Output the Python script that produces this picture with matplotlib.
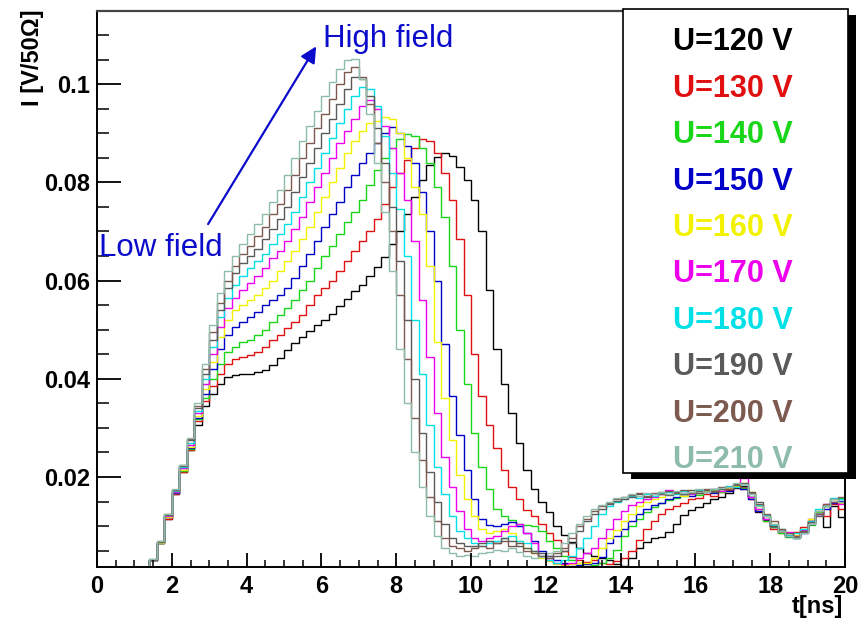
import matplotlib.pyplot as plt
import matplotlib.patches as mpatches
import numpy as np

plt.rcParams['font.family'] = ['Liberation Sans', 'DejaVu Sans']

# histogram bins: 0.2 ns wide, 1.2 .. 20 ns ; values in 1e-3 V/50 Ohm
bin_lo, bin_hi, n_bins = 1.2, 20.0, 94

voltages = [120, 130, 140, 150, 160, 170, 180, 190, 200, 210]
colors = ['#000000', '#e01010', '#19d619', '#0000c8', '#f2f200',
          '#ee00ee', '#00e0e6', '#5a5a5a', '#7d5a50', '#8ebcaa']

i_120 = [0.0, 3.0, 6.5, 11.5, 16.5, 21.0, 25.5, 30.5, 34.5, 37.0,
         39.0, 40.3, 40.8, 41.0, 41.0, 41.4, 41.8, 42.8, 44.2, 45.8,
         47.2, 48.5, 49.8, 51.0, 52.0, 53.2, 54.8, 56.2, 57.8, 59.2,
         61.0, 62.8, 64.8, 67.5, 70.0, 73.5, 77.0, 80.5, 83.5, 85.2,
         86.0, 85.3, 83.2, 80.5, 76.5, 70.0, 58.0, 46.0, 39.0, 33.0,
         27.0, 21.5, 17.5, 15.0, 12.8, 10.0, 8.2, 6.8, 5.5, 4.5,
         4.0, 3.5, 3.0, 2.2, 1.8, 3.5, 5.5, 6.8, 7.5, 7.8,
         8.8, 10.5, 12.2, 13.2, 13.9, 14.8, 15.5, 16.0, 16.8, 17.8,
         18.2, 16.0, 12.8, 11.2, 9.8, 9.0, 8.2, 8.0, 9.0, 11.0,
         12.8, 9.8, 14.0, 11.8]
i_130 = [0.0, 3.0, 6.5, 11.5, 16.5, 21.0, 25.5, 31.5, 35.5, 38.5,
         41.0, 43.0, 44.0, 44.5, 44.8, 45.5, 46.5, 47.8, 49.0, 50.3,
         51.5, 53.0, 55.0, 57.0, 58.5, 60.0, 62.0, 64.0, 66.0, 68.0,
         70.0, 72.5, 75.5, 79.0, 82.0, 84.5, 87.0, 88.8, 88.5, 86.0,
         82.0, 76.5, 68.5, 57.0, 45.0, 36.5, 30.5, 26.0, 21.5, 18.0,
         15.5, 13.2, 12.0, 10.5, 8.5, 7.2, 5.0, 3.8, 3.0, 2.6,
         3.0, 2.5, 2.2, 2.8, 3.5, 5.0, 7.2, 9.5, 11.0, 12.5,
         13.5, 14.0, 14.8, 15.5, 15.8, 16.5, 16.2, 17.0, 17.4, 18.0,
         17.6, 15.5, 13.0, 11.0, 9.5, 8.5, 8.0, 8.8, 9.8, 11.5,
         13.0, 12.0, 14.5, 13.5]
i_140 = [0.0, 3.0, 6.5, 11.8, 16.8, 21.3, 25.8, 31.8, 36.0, 40.0,
         43.0, 45.5, 46.5, 47.5, 48.0, 49.0, 50.0, 51.5, 53.0, 54.5,
         56.0, 58.0, 60.0, 62.5, 65.0, 67.0, 69.5, 72.0, 74.0, 76.5,
         79.5, 82.5, 85.0, 87.0, 88.8, 89.8, 89.5, 87.0, 84.0, 79.0,
         73.0, 63.0, 50.0, 39.0, 29.0, 22.0, 17.5, 13.5, 12.0, 11.2,
         10.5, 10.2, 10.0, 9.0, 7.0, 5.5, 4.0, 3.0, 2.5, 2.2,
         2.0, 2.5, 3.5, 5.2, 8.0, 10.0, 11.5, 12.8, 13.8, 14.7,
         15.3, 15.8, 16.2, 16.8, 16.4, 17.0, 17.4, 17.0, 17.6, 18.2,
         17.8, 16.0, 13.5, 11.0, 9.8, 8.5, 7.8, 7.5, 8.8, 10.2,
         12.8, 14.0, 15.0, 15.8]
i_150 = [0.0, 3.0, 6.6, 11.8, 16.8, 21.5, 26.0, 32.0, 37.0, 42.0,
         46.0, 49.0, 50.5, 51.5, 52.5, 53.5, 55.0, 56.0, 57.0, 58.5,
         60.5, 63.0, 65.5, 68.0, 71.0, 73.5, 76.0, 79.0, 81.5, 84.0,
         86.0, 88.0, 90.0, 91.2, 90.0, 87.5, 84.0, 78.0, 70.0, 60.0,
         47.0, 36.5, 28.5, 21.5, 15.5, 11.5, 10.2, 10.0, 10.5, 10.8,
         10.0, 8.5, 7.0, 5.0, 4.0, 3.0, 2.5, 2.2, 2.0, 2.2,
         2.5, 3.8, 6.5, 8.0, 9.5, 11.0, 12.5, 13.5, 14.2, 14.8,
         15.5, 16.0, 16.5, 16.2, 16.8, 17.2, 16.8, 17.5, 17.2, 18.0,
         17.5, 15.5, 13.0, 11.5, 10.0, 9.0, 8.0, 7.5, 8.5, 10.5,
         12.5, 13.5, 14.8, 15.2]
i_160 = [0.0, 3.0, 6.6, 11.8, 17.0, 21.5, 26.2, 32.5, 38.0, 43.5,
         48.5, 52.0, 54.0, 55.0, 56.0, 57.0, 58.5, 60.0, 62.0, 64.0,
         66.0, 68.5, 71.0, 74.0, 77.0, 80.0, 83.0, 86.0, 88.5, 90.5,
         92.0, 92.5, 93.3, 93.0, 90.0, 85.0, 79.0, 73.5, 63.0, 47.5,
         36.0, 27.5, 20.5, 15.5, 12.0, 9.5, 8.5, 9.0, 9.5, 8.5,
         7.0, 5.5, 4.5, 3.5, 2.8, 2.2, 2.0, 2.2, 2.5, 2.5,
         3.5, 5.5, 7.5, 9.2, 11.0, 12.5, 14.0, 15.0, 15.5, 16.0,
         16.5, 16.8, 16.2, 17.0, 16.8, 17.2, 17.6, 17.2, 17.8, 18.2,
         18.8, 17.0, 14.0, 12.0, 10.5, 9.0, 8.5, 8.2, 9.5, 11.5,
         13.0, 14.0, 15.5, 14.8]
i_170 = [0.0, 3.0, 6.7, 12.0, 17.0, 21.8, 26.5, 33.0, 39.0, 45.0,
         50.5, 54.5, 56.5, 58.0, 59.5, 61.0, 62.5, 64.5, 66.0, 68.0,
         70.5, 73.0, 76.0, 79.0, 82.0, 85.0, 88.0, 90.5, 93.0, 95.5,
         96.7, 95.0, 91.5, 87.0, 82.0, 76.5, 68.0, 56.0, 44.5, 33.0,
         24.0, 18.0, 13.0, 9.5, 7.5, 7.0, 7.5, 8.0, 9.0, 10.0,
         10.5, 8.5, 6.5, 4.0, 3.0, 2.5, 2.2, 2.5, 3.5, 4.5,
         5.5, 7.5, 9.5, 11.5, 13.0, 14.2, 15.0, 15.5, 16.0, 16.5,
         17.3, 16.8, 17.2, 16.6, 17.4, 17.0, 17.5, 17.2, 17.9, 18.5,
         19.8, 16.0, 13.5, 11.5, 10.0, 9.0, 8.8, 8.0, 9.2, 11.0,
         12.5, 14.5, 15.0, 14.5]
i_180 = [0.0, 3.1, 6.8, 12.2, 17.2, 22.0, 27.0, 33.5, 40.0, 46.5,
         52.5, 56.5, 59.0, 61.0, 62.5, 64.0, 65.5, 67.5, 69.5, 71.5,
         74.0, 77.0, 80.0, 83.0, 86.0, 89.0, 92.0, 95.0, 97.5, 99.5,
         99.0, 95.5, 89.5, 82.0, 74.5, 65.0, 52.0, 41.0, 30.5, 22.0,
         16.5, 12.0, 9.0, 7.5, 6.5, 6.0, 6.5, 7.0, 7.5, 8.0,
         7.0, 6.5, 5.0, 4.0, 3.0, 2.5, 3.0, 4.0, 5.5, 7.5,
         10.0, 12.5, 14.0, 15.0, 15.5, 16.2, 15.8, 16.5, 16.2, 16.8,
         17.0, 16.5, 17.2, 16.8, 17.4, 17.0, 17.5, 17.8, 18.2, 18.0,
         18.6, 16.5, 14.2, 12.2, 10.2, 9.5, 8.2, 8.5, 9.5, 11.0,
         13.5, 14.0, 15.8, 15.5]
i_190 = [0.0, 3.1, 6.8, 12.3, 17.3, 22.2, 27.5, 34.0, 41.0, 48.0,
         54.0, 58.5, 61.5, 63.5, 65.0, 66.5, 68.5, 70.5, 72.5, 75.0,
         78.0, 81.0, 84.0, 87.0, 90.0, 93.0, 96.0, 99.0, 101.5, 101.0,
         97.5, 91.0, 84.0, 75.0, 64.0, 52.0, 40.0, 29.0, 21.0, 15.0,
         10.5, 7.5, 6.5, 6.0, 6.0, 6.5, 7.0, 6.5, 7.5, 7.0,
         6.0, 5.5, 5.0, 4.5, 4.0, 4.0, 5.0, 6.5, 9.0, 11.0,
         12.5, 13.5, 14.5, 15.2, 15.6, 16.0, 16.5, 16.0, 16.6, 17.0,
         16.4, 17.0, 16.6, 17.4, 16.8, 17.3, 17.0, 17.6, 18.0, 18.3,
         18.8, 17.0, 15.0, 12.0, 10.0, 9.0, 8.0, 7.8, 8.8, 10.8,
         12.0, 14.0, 15.5, 15.0]
i_200 = [0.0, 3.2, 7.0, 12.4, 17.4, 22.4, 27.8, 34.5, 42.0, 49.5,
         55.5, 60.0, 63.0, 65.5, 67.0, 69.0, 71.0, 73.5, 75.5, 78.5,
         81.5, 85.0, 88.0, 91.0, 94.0, 97.0, 100.0, 102.5, 103.5, 101.5,
         96.0, 88.0, 80.0, 70.0, 57.0, 44.0, 32.0, 23.5, 16.0, 11.0,
         7.5, 6.0, 5.5, 5.0, 5.5, 6.0, 5.5, 6.5, 7.0, 6.0,
         6.5, 5.0, 4.5, 4.0, 3.5, 4.5, 5.5, 7.5, 10.0, 11.5,
         13.0, 14.0, 14.8, 15.5, 16.0, 16.3, 16.8, 16.2, 16.8, 16.5,
         17.2, 16.8, 17.3, 16.8, 17.2, 17.6, 17.2, 17.9, 17.6, 18.5,
         18.0, 16.8, 14.5, 12.5, 11.0, 9.5, 8.5, 8.0, 9.0, 10.5,
         12.5, 14.5, 15.0, 16.0]
i_210 = [0.0, 3.2, 7.0, 12.5, 17.5, 22.5, 28.0, 35.0, 43.0, 51.0,
         57.5, 62.0, 65.0, 67.5, 69.5, 71.5, 73.5, 76.0, 78.5, 81.5,
         85.0, 88.5, 91.5, 94.5, 97.5, 100.5, 103.0, 105.0, 105.2, 101.0,
         94.0, 84.0, 74.0, 62.0, 46.0, 35.0, 25.0, 18.0, 12.0, 8.0,
         5.5, 4.5, 4.0, 4.2, 4.0, 4.5, 4.8, 5.2, 5.0, 5.5,
         4.8, 4.0, 3.5, 3.8, 4.5, 5.0, 6.5, 8.5, 10.5, 12.0,
         13.5, 14.2, 15.0, 15.8, 16.0, 16.5, 16.2, 16.8, 16.5, 17.0,
         16.6, 17.2, 16.8, 17.0, 17.5, 17.0, 17.6, 17.8, 18.0, 18.8,
         18.5, 16.5, 14.0, 12.0, 10.5, 9.0, 8.0, 7.5, 8.5, 10.5,
         13.0, 14.0, 15.5, 15.0]

series = [i_120, i_130, i_140, i_150, i_160, i_170, i_180, i_190, i_200, i_210]
labels = ['U=%d V' % v for v in voltages]

W, H = 866, 627
fig = plt.figure(figsize=(W / 100, H / 100), dpi=100)
ax = fig.add_axes([97 / W, 1 - 567 / H, (845 - 97) / W, (567 - 11) / H])

edges = np.linspace(bin_lo, bin_hi, n_bins + 1)
for vals, c in zip(series, colors):
    ax.stairs(np.array(vals) * 1e-3, edges, color=c, lw=1.0, baseline=None)

ax.set_xlim(0, 20)
ax.set_ylim(0.00167, 0.1149)
ax.set_xticks(np.arange(0, 21, 2))
ax.set_xticks(np.arange(0, 20.01, 0.5), minor=True)
ax.set_yticks([0.02, 0.04, 0.06, 0.08, 0.1])
ax.set_yticklabels(['0.02', '0.04', '0.06', '0.08', '0.1'])
ax.set_yticks(np.arange(0.005, 0.1149, 0.005), minor=True)
ax.tick_params(axis='y', which='major', direction='in', length=17, width=1.3,
               labelsize=17, pad=5)
ax.tick_params(axis='y', which='minor', direction='in', length=8.5, width=1.1)
ax.tick_params(axis='x', which='major', direction='in', length=10, width=1.3,
               labelsize=17, pad=6)
ax.tick_params(axis='x', which='minor', direction='in', length=5, width=1.1)
for lab in ax.get_xticklabels() + ax.get_yticklabels():
    lab.set_fontweight('bold')
for s in ['left', 'bottom', 'right']:
    ax.spines[s].set_linewidth(1.4)
ax.spines['top'].set_linewidth(1.6)
ax.spines['top'].set_color('#444444')

fig.text(32 / W, 1 - 9 / H, 'I [V/50\u03a9]', rotation=90, ha='center', va='top',
         fontsize=17, fontweight='bold')
fig.text(843 / W, 1 - 606 / H, 't[ns]', ha='right', va='center',
         fontsize=17, fontweight='bold')

# annotations
blue = '#0b0bcc'
ax.annotate('', xy=(5.86, 0.1077), xytext=(2.97, 0.0715),
            arrowprops=dict(arrowstyle='-|>', color=blue, lw=1.6,
                            mutation_scale=24, shrinkA=0, shrinkB=0))
ax.text(0.05, 0.065, 'Low field', color=blue, fontsize=22.5, va='baseline',
        ha='left')
ax.text(6.04, 0.1075, 'High field', color=blue, fontsize=22.5, va='baseline',
        ha='left', clip_on=False)

# legend box with shadow
bx0, bx1, by0, by1 = 623, 848, 9, 473
shadow = mpatches.Rectangle(((bx0 + 8) / W, 1 - (by1 + 6) / H), (bx1 - bx0) / W,
                            (by1 - by0) / H, transform=fig.transFigure,
                            facecolor='black', edgecolor='none', zorder=10)
box = mpatches.Rectangle((bx0 / W, 1 - by1 / H), (bx1 - bx0) / W,
                         (by1 - by0) / H, transform=fig.transFigure,
                         facecolor='white', edgecolor='black', lw=1.2, zorder=11)
fig.add_artist(shadow)
fig.add_artist(box)
for k, (lab, c) in enumerate(zip(labels, colors)):
    t = fig.text(673 / W, 1 - (42.5 + 46.4 * k) / H, lab, color=c,
                 fontsize=22, fontweight='bold', ha='left', va='center', zorder=12)
    t.set_clip_path(box)

fig.savefig('out.png', dpi=100)
